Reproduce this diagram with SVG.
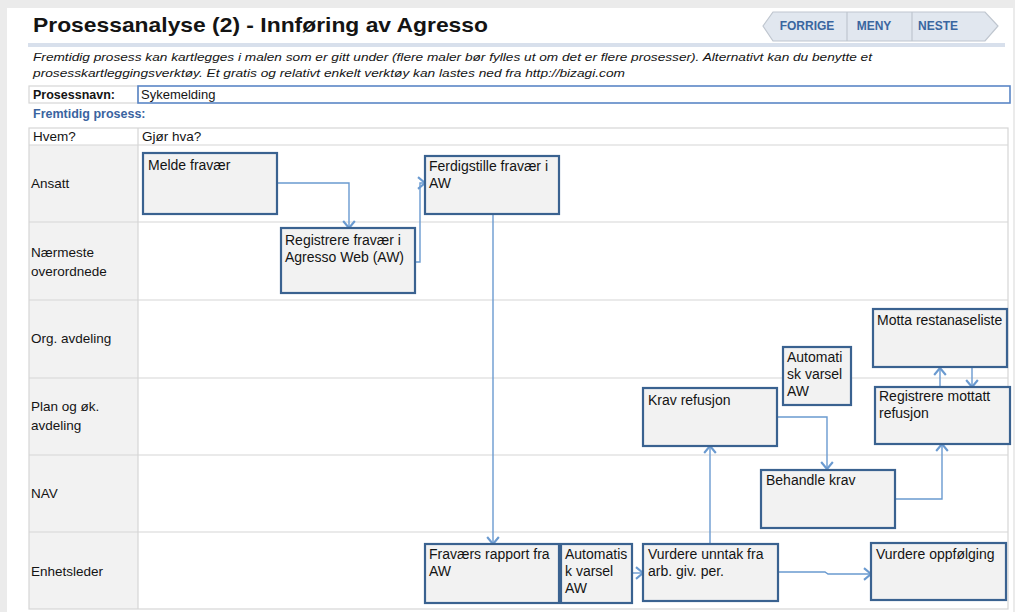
<svg xmlns="http://www.w3.org/2000/svg" width="1015" height="612" viewBox="0 0 1015 612">
<style>
text{font-family:"Liberation Sans",Arial,sans-serif;fill:#141414}
.lab{font-size:13.5px}
.nt{font-size:14px}
.node rect{fill:#f2f2f2;stroke:#3a6290;stroke-width:2.2}
.grid{stroke:#d6d6d6;stroke-width:1.2;fill:none}
.conn path{fill:none;stroke:#6a9ad0;stroke-width:1.4}
.nav{font-size:12px;font-weight:bold;fill:#3a66a0}
</style>
<defs>
<marker id="arr" markerUnits="userSpaceOnUse" markerWidth="14" markerHeight="14" refX="10" refY="6" orient="auto" viewBox="0 0 12 12">
<path d="M4,1 L10,6 L4,11" fill="none" stroke="#6a9ad0" stroke-width="1.8"/>
</marker>
</defs>
<rect x="0" y="0" width="1015" height="612" fill="#ebebeb"/>
<rect x="7" y="8" width="1006" height="604" fill="#ffffff"/>

<!-- header -->
<g id="header">
<text x="33" y="32" font-size="21" font-weight="bold" textLength="455" lengthAdjust="spacingAndGlyphs" fill="#111">Prosessanalyse (2) - Innføring av Agresso</text>
<rect x="28" y="43" width="977" height="4" fill="#d8e0ec"/>
</g>
<g id="navbuttons">
<path d="M763,26 L773,12 H985 L998,26 L985,41 H773 Z" fill="#e1e7ef" stroke="#bfc6cf" stroke-width="1.2"/>
<line x1="847" y1="12" x2="847" y2="41" stroke="#bfc6cf" stroke-width="1.2"/>
<line x1="912" y1="12" x2="912" y2="41" stroke="#bfc6cf" stroke-width="1.2"/>
<text class="nav" x="807" y="30" text-anchor="middle">FORRIGE</text>
<text class="nav" x="874" y="30" text-anchor="middle">MENY</text>
<text class="nav" x="938" y="30" text-anchor="middle">NESTE</text>
</g>
<g id="intro">
<text x="33" y="61" font-size="11.5" font-style="italic" textLength="839" lengthAdjust="spacingAndGlyphs">Fremtidig prosess kan kartlegges i malen som er gitt under (flere maler bør fylles ut om det er flere prosesser). Alternativt kan du benytte et</text>
<text x="33" y="77" font-size="11.5" font-style="italic" textLength="592" lengthAdjust="spacingAndGlyphs">prosesskartleggingsverktøy. Et gratis og relativt enkelt verktøy kan lastes ned fra http://bizagi.com</text>
</g>
<g id="prosessnavn">
<rect x="29" y="86" width="109" height="17" class="grid"/>
<rect x="138" y="86" width="872" height="17" fill="none" stroke="#5a86c6" stroke-width="1.6"/>
<text x="33" y="99" font-size="12.5" font-weight="bold">Prosessnavn:</text>
<text x="141" y="99" font-size="13">Sykemelding</text>
<text x="33" y="118" font-size="12.5" font-weight="bold" style="fill:#3a64a0">Fremtidig prosess:</text>
</g>

<!-- table -->
<g id="table">
<rect x="29" y="145" width="109" height="464" fill="#f2f2f2"/>
<rect x="29" y="128" width="979" height="481" class="grid"/>
<line x1="29" y1="145" x2="1008" y2="145" class="grid"/>
<line x1="29" y1="222" x2="1008" y2="222" class="grid"/>
<line x1="29" y1="300" x2="1008" y2="300" class="grid"/>
<line x1="29" y1="378" x2="1008" y2="378" class="grid"/>
<line x1="29" y1="455" x2="1008" y2="455" class="grid"/>
<line x1="29" y1="532" x2="1008" y2="532" class="grid"/>
<line x1="138" y1="128" x2="138" y2="609" class="grid"/>
<text class="lab" x="33" y="141">Hvem?</text>
<text class="lab" x="142" y="141">Gjør hva?</text>
<text class="lab" x="31" y="188">Ansatt</text>
<text class="lab" x="31" y="257">Nærmeste</text>
<text class="lab" x="31" y="276">overordnede</text>
<text class="lab" x="31" y="343">Org. avdeling</text>
<text class="lab" x="31" y="411">Plan og øk.</text>
<text class="lab" x="31" y="430">avdeling</text>
<text class="lab" x="31" y="498">NAV</text>
<text class="lab" x="31" y="576">Enhetsleder</text>
</g>

<!-- connectors -->
<g id="connectors" class="conn">
<path d="M277,183 H349 V228" marker-end="url(#arr)"/>
<path d="M415,262 H420 V183 H425" marker-end="url(#arr)"/>
<path d="M493,214 V544" marker-end="url(#arr)"/>
<path d="M632,573 H643" marker-end="url(#arr)"/>
<path d="M710,544 V446" marker-end="url(#arr)"/>
<path d="M777,417 H827 V469" marker-end="url(#arr)"/>
<path d="M895,499 H942 V444" marker-end="url(#arr)"/>
<path d="M940,387 V368" marker-end="url(#arr)"/>
<path d="M972,368 V387" marker-end="url(#arr)"/>
<path d="M778,572 H825 L828,574 H871" marker-end="url(#arr)"/>
</g>

<!-- nodes -->
<g id="n-melde" class="node"><rect x="143" y="153" width="134" height="61"/><text class="nt" x="148" y="170">Melde fravær</text></g>
<g id="n-registrere" class="node"><rect x="281" y="228" width="134" height="65"/><text class="nt" x="285" y="245">Registrere fravær i</text><text class="nt" x="285" y="262">Agresso Web (AW)</text></g>
<g id="n-ferdigstille" class="node"><rect x="425" y="156" width="134" height="58"/><text class="nt" x="429" y="171">Ferdigstille fravær i</text><text class="nt" x="429" y="188">AW</text></g>
<g id="n-fravaersrapport" class="node"><rect x="425" y="544" width="134" height="59"/><text class="nt" x="429" y="559">Fraværs rapport fra</text><text class="nt" x="429" y="576">AW</text></g>
<g id="n-autovarsel1" class="node"><rect x="561" y="544" width="71" height="59"/><text class="nt" x="565" y="559">Automatis</text><text class="nt" x="565" y="576">k varsel</text><text class="nt" x="565" y="593">AW</text></g>
<g id="n-vurdereunntak" class="node"><rect x="643" y="544" width="135" height="57"/><text class="nt" x="648" y="559">Vurdere unntak fra</text><text class="nt" x="648" y="576">arb. giv. per.</text></g>
<g id="n-vurdereoppfolging" class="node"><rect x="871" y="543" width="135" height="57"/><text class="nt" x="876" y="559">Vurdere oppfølging</text></g>
<g id="n-kravrefusjon" class="node"><rect x="643" y="388" width="134" height="58"/><text class="nt" x="648" y="405">Krav refusjon</text></g>
<g id="n-autovarsel2" class="node"><rect x="783" y="347" width="68" height="58"/><text class="nt" x="787" y="362">Automati</text><text class="nt" x="787" y="379">sk varsel</text><text class="nt" x="787" y="396">AW</text></g>
<g id="n-motta" class="node"><rect x="873" y="309" width="134" height="58"/><text class="nt" x="877" y="325">Motta restanaseliste</text></g>
<g id="n-registreremottatt" class="node"><rect x="875" y="387" width="135" height="57"/><text class="nt" x="879" y="401">Registrere mottatt</text><text class="nt" x="879" y="418">refusjon</text></g>
<g id="n-behandlekrav" class="node"><rect x="761" y="470" width="134" height="58"/><text class="nt" x="766" y="485">Behandle krav</text></g>
</svg>
